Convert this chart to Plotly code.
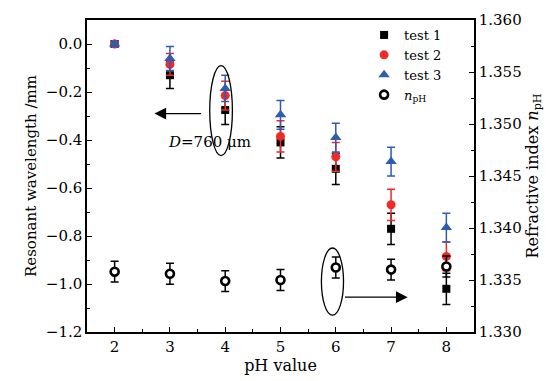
import plotly.graph_objects as go

ph = [2, 3, 4, 5, 6, 7, 8]
test1 = [0.0, -0.13, -0.275, -0.41, -0.52, -0.77, -1.02]
test1_err = [0.01, 0.055, 0.06, 0.065, 0.065, 0.065, 0.065]
test2 = [0.0, -0.085, -0.215, -0.385, -0.47, -0.67, -0.885]
test2_err = [0.01, 0.045, 0.06, 0.065, 0.06, 0.065, 0.06]
test3 = [0.0, -0.06, -0.185, -0.295, -0.39, -0.49, -0.765]
test3_err = [0.01, 0.05, 0.055, 0.06, 0.06, 0.06, 0.06]
n_ph = [1.3358, 1.3356, 1.3349, 1.3350, 1.3362, 1.3360, 1.3363]
n_ph_err = [0.001, 0.001, 0.001, 0.001, 0.001, 0.001, 0.001]

FONT = "DejaVu Serif"
BLACK = "#000000"
RED = "#ee2b2b"
BLUE = "#2d5cb0"

fig = go.Figure()

def add_series(y, err, name, color, symbol, size, yaxis="y"):
    fig.add_trace(go.Scatter(
        x=ph, y=y, name=name, mode="markers", yaxis=yaxis,
        marker=dict(symbol=symbol, size=size, color=color, line=dict(width=0)),
        error_y=dict(type="data", array=err, visible=True, color=color,
                     thickness=1.5, width=4),
    ))

add_series(test1, test1_err, "test 1", BLACK, "square", 8)
add_series(test2, test2_err, "test 2", RED, "circle", 9)
add_series(test3, test3_err, "test 3", BLUE, "triangle-up", 10)
fig.add_trace(go.Scatter(
    x=ph, y=n_ph, name="<i>n</i><sub>pH</sub>", mode="markers", yaxis="y2",
    marker=dict(symbol="circle", size=8, color="white", line=dict(width=2.6, color=BLACK)),
    error_y=dict(type="data", array=n_ph_err, visible=True, color=BLACK,
                 thickness=1.5, width=4),
))

axis_common = dict(
    showline=True, linecolor=BLACK, linewidth=1.5, ticks="inside",
    ticklen=5, tickwidth=1.2, tickcolor=BLACK, showgrid=False, zeroline=False,
    automargin=False,
    tickfont=dict(family=FONT, size=15, color=BLACK),
)

fig.update_layout(
    width=547, height=373,
    margin=dict(l=79, r=81, t=12, b=49, autoexpand=False),
    paper_bgcolor="white", plot_bgcolor="white",
    font=dict(family=FONT, size=15, color=BLACK),
    showlegend=True,
    legend=dict(x=0.716, y=1.0, xanchor="left", yanchor="top",
                bgcolor="rgba(0,0,0,0)", borderwidth=0,
                font=dict(family=FONT, size=13), tracegroupgap=0,
                itemwidth=30),
    xaxis=dict(range=[1.5, 8.5], tickvals=[2, 3, 4, 5, 6, 7, 8],
               minor=dict(dtick=0.5, ticks="inside", ticklen=3, tickcolor=BLACK),
               mirror=True,
               title=dict(text="pH value", font=dict(family=FONT, size=16), standoff=2),
               **axis_common),
    yaxis=dict(range=[-1.2, 0.1], tickvals=[0.0, -0.2, -0.4, -0.6, -0.8, -1.0, -1.2],
               tickformat=".1f",
               minor=dict(dtick=0.1, ticks="inside", ticklen=3, tickcolor=BLACK),
               title=dict(text="Resonant wavelength /mm", font=dict(family=FONT, size=15), standoff=6),
               **axis_common),
    yaxis2=dict(range=[1.330, 1.360], overlaying="y", side="right",
                tickvals=[1.330, 1.335, 1.340, 1.345, 1.350, 1.355, 1.360],
                tickformat=".3f",
                minor=dict(dtick=0.0025, ticks="inside", ticklen=3, tickcolor=BLACK),
                title=dict(text="Refractive index <i>n</i><sub>pH</sub>",
                           font=dict(family=FONT, size=16), standoff=6),
                **axis_common),
)

# Ellipses
fig.add_shape(type="circle", xref="x", yref="y", x0=3.72, x1=4.13, y0=-0.465, y1=-0.09,
              line=dict(color=BLACK, width=1.3))
fig.add_shape(type="circle", xref="x", yref="y", x0=5.74, x1=6.14, y0=-1.13, y1=-0.85,
              line=dict(color=BLACK, width=1.3))

# Arrows
fig.add_annotation(x=2.72, y=-0.29, ax=3.59, ay=-0.29, xref="x", yref="y",
                   axref="x", ayref="y", showarrow=True, arrowhead=2, arrowsize=1.8,
                   arrowwidth=1.3, arrowcolor=BLACK, text="")
fig.add_annotation(x=7.30, y=-1.055, ax=6.14, ay=-1.055, xref="x", yref="y",
                   axref="x", ayref="y", showarrow=True, arrowhead=2, arrowsize=1.8,
                   arrowwidth=1.3, arrowcolor=BLACK, text="")

fig.add_annotation(x=3.72, y=-0.41, xref="x", yref="y", showarrow=False,
                   text="<i>D</i>=760 μm", font=dict(family=FONT, size=15, color=BLACK))

fig.write_html("out.html")
